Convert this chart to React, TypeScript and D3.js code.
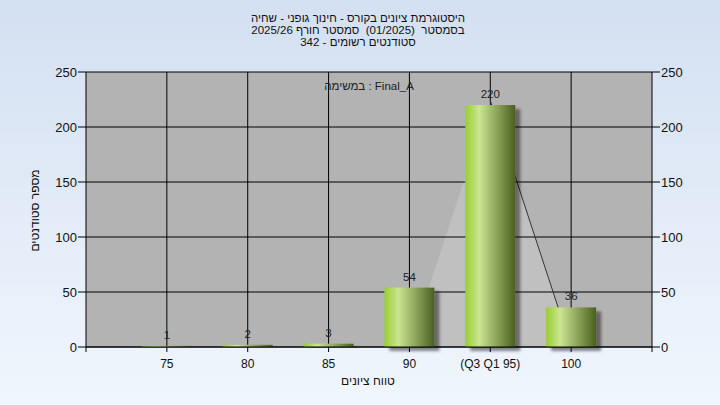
import React from 'react';
import * as d3 from 'd3';

// grade buckets and student counts
const gradeValues = [75, 80, 85, 90, 95, 100];
const gradeLabels = ['75', '80', '85', '90', '(Q3 Q1 95)', '100'];
const studentCounts = [1, 2, 3, 54, 220, 36];
const yTicks = [0, 50, 100, 150, 200, 250];

// quartile band drawn behind the bars (grade, count)
const bandGrades = [90, 95, 100];
const bandCounts = [0, 224, 0];

const titleLines = [
  'היסטוגרמת ציונים בקורס - חינוך גופני - שחיה',
  'בסמסטר  (01/2025)  סמסטר חורף 2025/26',
  'סטודנטים רשומים - 342',
];

const W = 720;
const H = 405;
const FONT = '"Liberation Sans", Arial, sans-serif';

const App = () => {
  const margin = { top: 72, right: 68, bottom: 58, left: 86 };
  const x = d3.scaleLinear().domain([70, 105]).range([margin.left, W - margin.right]);
  const y = d3.scaleLinear().domain([0, 250]).range([H - margin.bottom, margin.top]);
  const barW = 50;
  const x0 = x.range()[0];
  const x1 = x.range()[1];
  const yBase = y(0);

  const band = bandGrades.map((g, i) => [x(g), y(bandCounts[i])] as [number, number]);
  const bandArea = d3.line()(band) + 'Z';
  const bandEdge = d3.line()(band.slice(1));

  return (
    <svg width={W} height={H} style={{ position: 'fixed', left: 0, top: 0 }} fontFamily={FONT}>
      <defs>
        <linearGradient id="bg" x1="0" y1="0" x2="0" y2="1">
          <stop offset="0%" stopColor="#d3e0f1" />
          <stop offset="100%" stopColor="#f0f6fd" />
        </linearGradient>
        <linearGradient id="bar" x1="0" y1="0" x2="1" y2="0">
          <stop offset="0%" stopColor="#9acd32" />
          <stop offset="28%" stopColor="#cbe592" />
          <stop offset="100%" stopColor="#4a5f20" />
        </linearGradient>
        <filter id="shadow" x="-20%" y="-20%" width="150%" height="150%">
          <feDropShadow dx="5" dy="4" stdDeviation="1.5" floodColor="#000" floodOpacity="0.45" />
        </filter>
      </defs>

      <rect width={W} height={H} fill="url(#bg)" />

      {titleLines.map((t, i) => (
        <text key={i} x={358} y={22 + i * 12} textAnchor="middle" fontSize={11.5} fill="#111" direction="rtl"
          style={{ unicodeBidi: 'plaintext', whiteSpace: 'pre' }}>
          {t}
        </text>
      ))}

      <rect x={x0} y={y(250)} width={x1 - x0} height={yBase - y(250)} fill="#b3b3b3" />
      <path d={bandArea} fill="#c0c0c0" />

      {yTicks.map((t) => (
        <g key={t}>
          <line x1={x0 - 8} x2={x1 + 8} y1={y(t)} y2={y(t)} stroke="#000" />
          <text x={x0 - 9} y={y(t)} dy="0.35em" textAnchor="end" fontSize={13} fill="#111">{t}</text>
          <text x={x1 + 9} y={y(t)} dy="0.35em" textAnchor="start" fontSize={13} fill="#111">{t}</text>
        </g>
      ))}

      {gradeValues.map((g) => (
        <line key={g} x1={x(g)} x2={x(g)} y1={y(250)} y2={yBase + 5} stroke="#000" />
      ))}
      <line x1={x0} x2={x0} y1={y(250)} y2={yBase + 5} stroke="#000" />
      <line x1={x1} x2={x1} y1={y(250)} y2={yBase + 5} stroke="#000" />

      <path d={bandEdge ?? ''} fill="none" stroke="#333" strokeWidth={1} />

      {gradeValues.map((g, i) => (
        <rect key={g} x={x(g) - barW / 2} y={y(studentCounts[i])} width={barW}
          height={yBase - y(studentCounts[i])} fill="url(#bar)" filter="url(#shadow)" />
      ))}

      {gradeValues.map((g, i) => (
        <text key={g} x={x(g)} y={y(studentCounts[i]) - 7} textAnchor="middle" fontSize={11.5} fill="#222">
          {studentCounts[i]}
        </text>
      ))}

      <line x1={x0} x2={x1} y1={yBase} y2={yBase} stroke="#000" />

      {gradeValues.map((g, i) => (
        <text key={g} x={x(g)} y={yBase + 21} textAnchor="middle" fontSize={12} fill="#111">{gradeLabels[i]}</text>
      ))}

      <text x={(x0 + x1) / 2} y={90} textAnchor="middle" fontSize={11.5} fill="#222">במשימה : Final_A</text>

      <text x={368} y={385} textAnchor="middle" fontSize={12} fill="#111" direction="rtl">טווח ציונים</text>
      <text transform={`translate(39,${(y(0) + y(250)) / 2 + 1}) rotate(-90)`} textAnchor="middle" fontSize={12}
        fill="#111" direction="rtl">מספר סטודנטים</text>
    </svg>
  );
};

export default App;
